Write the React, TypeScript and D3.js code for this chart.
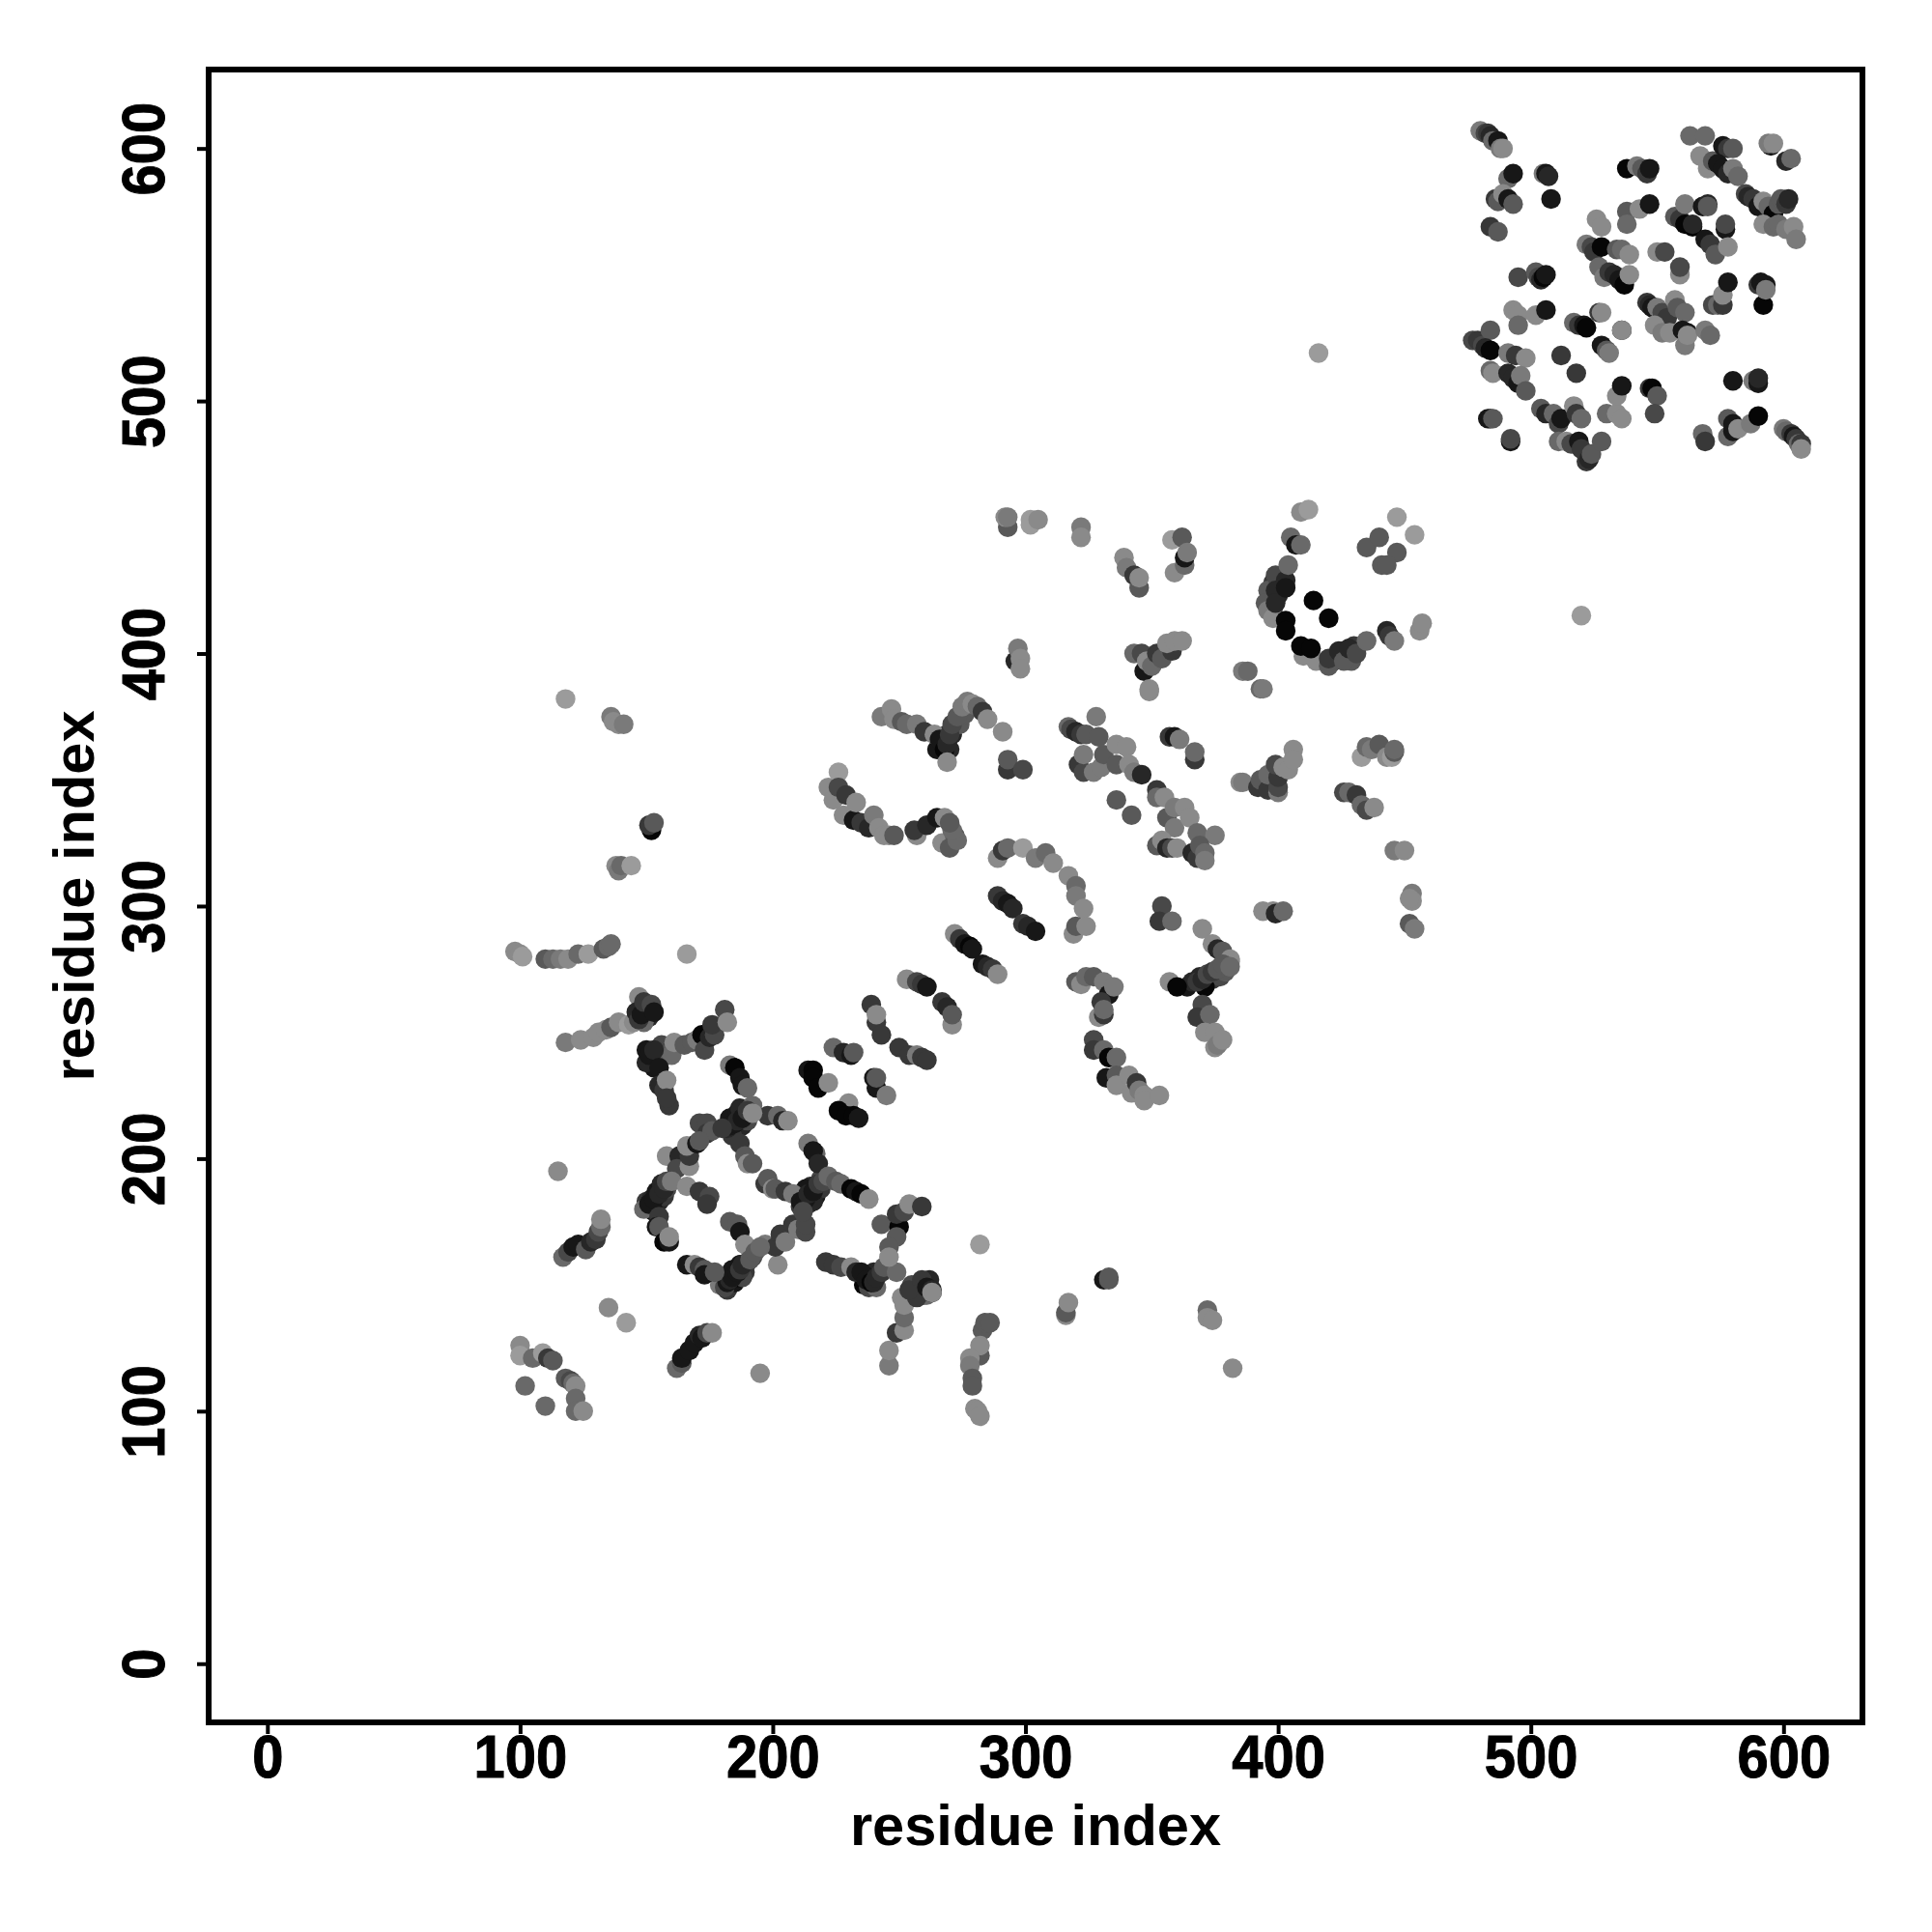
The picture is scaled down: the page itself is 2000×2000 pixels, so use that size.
import { useRef, useEffect } from 'react';
import * as d3 from 'd3';

// [residue i, residue j, shade] - shade 0 is black, 9 is the lightest grey
type Contact = [number, number, number];

const ticks = [0, 100, 200, 300, 400, 500, 600];
const axisDomain: [number, number] = [-23.24, 631.24];
const axisTitle = 'residue index';

// Lower layer of the thick bands, hidden partly by the contacts drawn after it
const bandContacts: Contact[] = [
    [150, 183, 3], [152, 184, 2], [152, 180, 2], [154, 187, 1], [155, 183, 2], [157, 185, 3], [158, 188, 4], [156, 190, 2], [153, 179, 1],
    [180, 152, 2], [182, 148, 3], [183, 154, 1], [185, 151, 1], [186, 153, 0], [187, 158, 1], [189, 155, 3], [190, 159, 3], [192, 161, 4], [184, 156, 1], [188, 153, 4],
    [212, 186, 1], [214, 182, 2], [215, 189, 2], [217, 185, 1], [219, 188, 3], [213, 188, 1], [216, 183, 2], [219, 192, 4],
    [183, 216, 1], [185, 211, 2], [186, 218, 1], [188, 213, 2], [190, 215, 4], [187, 220, 2], [184, 209, 3],
    [236, 150, 0], [238, 153, 1], [240, 155, 2], [236, 154, 1], [238, 149, 4], [241, 149, 6],
    [258, 148, 3], [260, 146, 4], [262, 152, 2], [257, 150, 5], [261, 146, 6],
    [148, 260, 2], [150, 259, 1], [151, 256, 2], [149, 254, 6],
    [150, 243, 1], [152, 240, 0], [154, 241, 1], [156, 245, 4], [158, 241, 5], [160, 241, 6], [153, 236, 1],
    [267, 365, 1], [269, 368, 3], [271, 368, 2], [272, 372, 5], [274, 372, 5], [276, 376, 5], [270, 362, 2], [265, 362, 1],
    [398, 428, 3], [400, 423, 2], [402, 431, 3], [401, 426, 4], [398, 418, 5], [397, 422, 6],
    [422, 397, 3], [424, 398, 2], [427, 399, 4], [429, 397, 5], [430, 403, 3], [426, 401, 1],
    [369, 272, 2], [372, 270, 1], [374, 271, 3], [377, 272, 4], [379, 274, 5], [381, 278, 8], [371, 268, 0],
];

const farContacts: Contact[] = [
    [118, 382, 9], [136, 375, 7], [137, 373, 8], [139, 372, 8], [141, 372, 7],
    [152, 330, 0], [151, 332, 3], [153, 333, 5], [138, 316, 8], [139, 314, 7], [140, 316, 6], [144, 316, 9],
    [166, 281, 9], [98, 282, 8], [100, 281, 8], [101, 280, 9], [110, 279, 5], [113, 279, 6], [116, 279, 7], [119, 279, 8],
    [123, 281, 6], [127, 281, 9], [133, 283, 5], [135, 284, 6], [136, 285, 6],
    [115, 195, 8], [135, 141, 8], [142, 135, 9], [195, 115, 8], [282, 166, 9], [416, 519, 9], [520, 415, 9],
    [331, 152, 1], [333, 152, 5], [333, 153, 5], [316, 138, 8], [316, 139, 5], [317, 143, 8],
    [372, 140, 6], [372, 137, 8], [374, 136, 8], [382, 117, 8],
    [100, 126, 8], [100, 122, 9], [102, 110, 6], [105, 121, 6], [109, 123, 9], [110, 102, 6], [111, 121, 3], [113, 120, 5],
    [118, 113, 5], [120, 112, 4], [121, 111, 6], [122, 110, 8], [122, 105, 6], [122, 100, 6], [125, 100, 8],
    [283, 132, 5], [284, 135, 5], [286, 135, 5], [282, 122, 5], [282, 126, 8], [278, 121, 8], [278, 118, 7], [279, 113, 5],
    [279, 110, 5], [280, 101, 8], [281, 100, 8], [282, 98, 8],
    [246, 118, 7], [246, 124, 8], [249, 131, 3], [252, 132, 8], [252, 137, 6], [251, 145, 8], [252, 142, 8], [257, 145, 3],
    [255, 150, 4], [254, 148, 3], [259, 152, 3], [261, 149, 1], [263, 147, 1], [263, 148, 2], [263, 147, 8],
    [162, 117, 6], [164, 119, 5], [164, 121, 1], [167, 124, 1], [169, 127, 1], [171, 130, 2], [172, 129, 1], [174, 131, 4], [176, 131, 8],
];

const coreContacts: Contact[] = [
    [118, 246, 7], [124, 247, 8], [129, 248, 8], [131, 250, 8], [134, 251, 8], [136, 252, 5], [139, 254, 8], [143, 253, 9], [145, 254, 8],
    [147, 264, 8], [146, 258, 2], [147, 255, 3], [148, 257, 1], [149, 262, 3], [152, 261, 4], [153, 258, 1],
    [150, 238, 2], [151, 241, 1], [153, 243, 2], [155, 236, 1], [155, 229, 2], [157, 227, 3], [158, 231, 8], [159, 221, 3], [158, 224, 3],
    [161, 246, 8], [165, 245, 5], [168, 246, 5], [170, 247, 7], [172, 249, 0], [173, 243, 4], [175, 248, 2], [177, 249, 4], [176, 253, 3], [181, 259, 4], [182, 254, 8],
    [183, 237, 7], [185, 236, 0], [187, 232, 1], [188, 229, 1], [190, 228, 6], [192, 221, 6],
    [198, 217, 3], [202, 217, 6], [204, 215, 2], [206, 215, 8],
    [182, 212, 2], [183, 213, 1], [185, 214, 1], [186, 215, 2], [188, 216, 1], [190, 219, 3], [192, 218, 8],
    [171, 214, 4], [174, 214, 4], [174, 210, 3], [176, 211, 5], [180, 212, 3],
    [158, 201, 8], [163, 201, 2], [162, 196, 4], [167, 197, 8], [167, 201, 3], [166, 205, 8], [170, 206, 1], [171, 207, 5],
    [187, 206, 3], [189, 201, 5], [190, 198, 8], [192, 198, 5],
    [197, 190, 3], [198, 192, 5], [200, 188, 8], [201, 188, 5], [205, 187, 3], [208, 186, 7],
    [214, 206, 7], [217, 202, 6], [216, 203, 1], [218, 198, 2],
    [211, 181, 3], [211, 183, 1], [213, 184, 1], [214, 186, 2], [216, 187, 1], [218, 190, 3], [220, 191, 4], [222, 193, 6], [225, 191, 5],
    [227, 190, 6], [231, 188, 0], [233, 187, 1], [235, 186, 0], [238, 184, 8],
    [202, 158, 8], [197, 166, 7], [201, 165, 3], [203, 170, 3], [205, 167, 7], [208, 174, 3], [210, 172, 7], [213, 171, 4], [213, 174, 4], [212, 179, 4],
    [183, 175, 5], [186, 174, 5], [187, 171, 1], [189, 166, 8],
    [179, 150, 7], [181, 149, 4], [182, 151, 1], [183, 152, 2], [184, 153, 1], [186, 155, 1], [187, 156, 3], [188, 158, 2], [191, 160, 5], [193, 163, 5], [195, 165, 6],
    [166, 158, 1], [169, 158, 8], [171, 157, 3], [173, 156, 5], [173, 154, 1], [177, 155, 5],
    [149, 180, 6], [151, 182, 1], [153, 184, 1], [155, 186, 2], [157, 188, 2], [158, 191, 4], [160, 191, 7], [166, 189, 8], [171, 187, 3], [175, 185, 4], [174, 182, 3],
    [155, 177, 3], [154, 173, 1], [155, 173, 5], [157, 167, 0], [159, 167, 1], [159, 169, 8],
    [117, 161, 6], [119, 163, 4], [121, 165, 1], [123, 166, 1], [126, 164, 5], [128, 167, 2], [130, 168, 3], [131, 171, 4], [132, 173, 6], [132, 176, 8],
    [221, 159, 3], [224, 158, 3], [227, 157, 4], [231, 157, 8], [233, 155, 2], [235, 155, 1], [237, 152, 1], [239, 151, 0], [240, 151, 2], [241, 153, 2], [243, 155, 3], [244, 157, 5], [249, 155, 6],
    [243, 174, 5], [250, 173, 0], [249, 178, 3], [252, 179, 4], [254, 182, 8], [259, 181, 3], [249, 169, 5], [246, 165, 5], [246, 161, 8],
];

const midContacts: Contact[] = [
    [253, 271, 8], [257, 270, 4], [259, 269, 3], [261, 268, 1], [267, 262, 3], [269, 260, 2], [271, 253, 8], [271, 257, 5],
    [239, 261, 3], [241, 254, 3], [241, 257, 8], [243, 249, 3], [250, 244, 3], [254, 241, 3], [257, 241, 7], [259, 240, 3], [261, 239, 3],
    [224, 244, 6], [228, 242, 2], [231, 241, 1], [232, 242, 5], [214, 235, 1], [216, 235, 0], [216, 232, 0], [218, 228, 0], [222, 230, 8],
    [241, 228, 1], [240, 232, 1], [241, 232, 5], [245, 225, 7], [230, 222, 8], [226, 219, 0], [229, 217, 0], [232, 217, 0], [234, 216, 1],
    [272, 289, 8], [274, 287, 3], [276, 285, 1], [278, 284, 0], [279, 283, 1], [283, 277, 1], [285, 276, 2], [287, 275, 3], [289, 273, 8],
    [222, 347, 8], [224, 342, 8], [226, 353, 9], [226, 347, 4], [229, 344, 3], [228, 336, 8], [232, 334, 1], [233, 341, 8], [235, 333, 3],
    [238, 331, 2], [240, 336, 7], [242, 331, 8], [244, 328, 8], [246, 328, 8], [248, 328, 5],
    [257, 328, 8], [256, 330, 3], [261, 332, 2], [265, 335, 1], [268, 335, 8], [267, 325, 8], [270, 323, 5], [272, 328, 5], [273, 326, 6], [271, 330, 6], [270, 333, 5],
    [243, 375, 7], [247, 378, 8], [248, 374, 8], [251, 373, 5], [253, 372, 6], [257, 372, 7], [260, 369, 3], [264, 368, 8], [266, 366, 1],
    [268, 362, 0], [269, 364, 2], [270, 368, 3], [271, 372, 4], [273, 375, 5], [275, 379, 7], [269, 357, 8],
    [277, 381, 7], [279, 380, 8], [281, 379, 6], [283, 377, 3], [285, 374, 8], [291, 369, 8], [293, 354, 3], [293, 358, 5], [299, 354, 4],
    [289, 319, 8], [291, 322, 3], [293, 323, 6], [299, 323, 9], [304, 319, 7], [308, 321, 6], [311, 317, 8], [317, 312, 8], [320, 308, 6], [320, 304, 7],
    [323, 299, 8], [319, 289, 8], [320, 292, 5], [324, 292, 8],
    [289, 304, 3], [291, 302, 2], [293, 301, 1], [295, 299, 2], [299, 293, 3], [301, 292, 2], [304, 290, 1],
    [293, 450, 5], [292, 454, 8], [293, 454, 7], [302, 453, 9], [302, 451, 9], [305, 453, 8], [322, 450, 7], [322, 446, 8],
    [339, 438, 8], [340, 434, 7], [343, 431, 3], [345, 426, 5], [345, 430, 8], [358, 445, 9], [359, 432, 8], [362, 446, 5], [363, 435, 6], [363, 438, 1], [364, 440, 7],
    [296, 397, 2], [297, 402, 7], [298, 398, 8], [298, 394, 8],
    [343, 400, 6], [346, 400, 4], [347, 393, 1], [348, 397, 8], [350, 395, 6], [352, 400, 3], [354, 398, 5], [358, 401, 3], [356, 404, 8], [359, 405, 8], [362, 405, 8], [349, 385, 8], [349, 386, 8],
    [386, 393, 7], [388, 393, 6], [393, 386, 6], [394, 386, 7],
    [317, 371, 6], [318, 370, 4], [320, 369, 2], [322, 368, 3], [324, 368, 5], [329, 367, 5], [328, 375, 7],
    [321, 356, 3], [323, 353, 4], [323, 360, 7], [327, 353, 7], [330, 355, 7], [331, 360, 5], [336, 356, 5], [336, 364, 8], [340, 363, 8], [341, 356, 8], [343, 353, 7], [346, 352, 2],
    [336, 342, 5], [342, 336, 5],
    [352, 346, 3], [352, 343, 6], [355, 343, 8], [356, 335, 5], [359, 331, 7], [359, 339, 7], [363, 339, 8], [365, 335, 8], [352, 324, 5], [354, 326, 8], [356, 323, 2], [358, 323, 4], [360, 323, 8],
    [368, 329, 6], [375, 328, 7], [366, 321, 2], [368, 319, 3], [369, 324, 5], [371, 321, 6], [371, 318, 7],
    [357, 367, 3], [359, 367, 1], [361, 366, 7], [367, 358, 3], [367, 361, 6],
    [385, 349, 8], [386, 349, 7], [392, 347, 3], [393, 350, 5], [396, 346, 3], [396, 352, 6], [400, 345, 7], [400, 347, 4], [400, 351, 3], [399, 356, 4], [402, 355, 8], [404, 354, 8], [406, 362, 8], [406, 358, 8],
    [433, 359, 9], [435, 363, 6], [437, 362, 7], [440, 364, 5], [443, 359, 8], [445, 359, 9], [446, 361, 5], [446, 362, 6],
    [426, 345, 4], [428, 345, 6], [431, 344, 3], [433, 340, 6], [435, 338, 4], [438, 339, 8], [446, 322, 7], [450, 322, 8],
    [453, 305, 7], [453, 302, 8], [452, 303, 8], [452, 293, 5], [454, 291, 7],
    [394, 298, 8], [398, 298, 8], [399, 297, 2], [402, 298, 6], [354, 300, 4], [353, 294, 3], [358, 294, 6], [370, 291, 8],
    [374, 285, 8], [376, 283, 2], [378, 282, 5], [381, 279, 8],
    [364, 268, 1], [366, 270, 2], [368, 270, 3], [370, 271, 2], [372, 273, 4], [374, 274, 3], [376, 275, 5], [378, 277, 5], [381, 276, 6], [357, 270, 8], [360, 268, 0],
    [370, 261, 4], [368, 256, 3], [373, 257, 6], [371, 250, 8], [375, 250, 8], [375, 244, 8], [376, 245, 7], [378, 247, 8],
    [320, 270, 5], [322, 269, 8], [324, 272, 6], [327, 272, 5], [331, 270, 7], [333, 265, 1], [335, 268, 7], [329, 256, 8], [330, 262, 3], [331, 257, 3], [331, 259, 6],
    [327, 247, 4], [327, 243, 3], [331, 243, 6], [333, 240, 0], [336, 240, 6], [332, 232, 1], [336, 233, 5], [336, 229, 8], [341, 233, 8], [342, 226, 8], [344, 230, 3], [345, 227, 7], [347, 225, 8], [347, 223, 8], [353, 225, 8],
];

const arcContacts: Contact[] = [
    [409, 456, 8], [412, 457, 9], [405, 446, 6], [407, 443, 1], [409, 443, 6],
    [396, 425, 5], [395, 420, 5], [396, 417, 7], [398, 414, 8], [399, 431, 4], [399, 425, 2], [399, 420, 2], [403, 429, 2], [403, 426, 1], [404, 435, 6], [403, 413, 0], [403, 409, 0],
    [414, 421, 0], [420, 414, 0],
    [410, 399, 8], [415, 397, 8], [420, 395, 5], [420, 398, 3], [409, 403, 0], [413, 402, 0], [424, 401, 2], [426, 397, 5], [428, 402, 2], [431, 400, 4], [435, 405, 6], [443, 409, 2], [444, 407, 3], [446, 405, 7],
    [456, 409, 8], [457, 412, 8], [447, 454, 9], [454, 447, 9], [435, 442, 5], [440, 446, 5], [447, 440, 5], [441, 435, 5], [443, 435, 5],
];

const domainContacts: Contact[] = [
    [480, 607, 7], [482, 606, 4], [483, 606, 3], [484, 605, 2], [485, 603, 6], [487, 603, 1], [488, 600, 7], [489, 600, 8],
    [491, 588, 6], [493, 590, 1], [505, 590, 7], [506, 590, 1], [507, 589, 2], [508, 580, 1],
    [486, 580, 3], [487, 579, 5], [489, 582, 8], [491, 580, 1], [493, 578, 5], [484, 569, 3], [487, 567, 5],
    [495, 549, 4], [502, 551, 5], [503, 549, 4], [504, 548, 2], [505, 549, 0], [506, 550, 1],
    [493, 536, 8], [495, 534, 8], [495, 530, 6], [502, 534, 8], [506, 536, 1],
    [477, 524, 4], [479, 524, 3], [481, 522, 4], [484, 528, 5], [482, 521, 2], [484, 520, 0],
    [484, 512, 6], [485, 511, 8], [491, 519, 7], [494, 518, 3], [498, 517, 8], [491, 511, 2], [493, 509, 2], [495, 507, 1], [496, 510, 7], [498, 504, 5],
    [512, 518, 3], [518, 511, 3], [483, 493, 1], [484, 493, 1], [485, 493, 5], [492, 484, 1], [492, 485, 4],
    [504, 497, 5], [506, 495, 2], [509, 495, 6], [511, 491, 4], [512, 493, 1], [517, 498, 8], [518, 495, 3], [520, 493, 6],
    [511, 484, 6], [514, 484, 8], [516, 483, 4], [519, 484, 1], [520, 481, 3], [522, 476, 3], [523, 477, 2], [524, 479, 5], [528, 484, 5],
    [530, 495, 6], [534, 495, 8], [536, 493, 8], [534, 502, 8], [536, 506, 1], [547, 505, 3], [548, 505, 0], [550, 502, 5], [549, 495, 4],
    [527, 535, 3], [528, 535, 8], [536, 528, 1], [536, 528, 8], [517, 531, 6], [519, 530, 3], [521, 530, 1], [522, 529, 0],
    [528, 522, 1], [530, 520, 5], [531, 519, 7],
    [526, 572, 8], [528, 569, 8], [522, 562, 7], [524, 561, 4], [525, 559, 3], [528, 561, 0], [527, 553, 6], [529, 549, 7], [531, 551, 3], [533, 550, 2], [535, 548, 1], [537, 546, 0], [534, 560, 5], [536, 560, 6], [539, 558, 8], [539, 550, 8],
    [538, 575, 5], [538, 570, 6], [543, 576, 8], [547, 578, 1], [538, 592, 0], [542, 593, 7], [544, 592, 5], [546, 590, 3], [547, 592, 1],
    [550, 559, 8], [553, 559, 4], [559, 550, 8], [559, 553, 4],
    [557, 573, 5], [559, 572, 3], [561, 578, 7], [561, 570, 0], [564, 569, 0], [564, 570, 2], [568, 577, 1], [570, 578, 2], [570, 577, 5], [577, 568, 1], [577, 570, 4],
    [569, 564, 1], [571, 562, 3], [573, 558, 5], [578, 561, 8],
    [572, 538, 4], [574, 538, 6], [576, 538, 3], [576, 542, 8], [578, 547, 1], [590, 546, 3], [591, 547, 1], [593, 546, 1], [592, 538, 0], [593, 544, 7],
    [546, 539, 3], [547, 538, 2], [548, 537, 1], [550, 537, 7], [552, 535, 4], [554, 533, 3], [549, 530, 8], [552, 527, 7], [555, 527, 8], [557, 540, 8], [558, 537, 5], [561, 535, 6],
    [560, 528, 1], [562, 527, 1], [561, 522, 7], [562, 526, 8], [569, 528, 7], [571, 526, 6],
    [563, 605, 6], [569, 605, 6], [567, 597, 8], [570, 592, 8], [572, 595, 5], [576, 601, 1], [578, 600, 3], [580, 600, 5], [574, 594, 1], [576, 592, 1], [578, 590, 2], [580, 592, 7], [582, 589, 6],
    [595, 601, 1], [594, 602, 7], [596, 602, 8], [601, 595, 2], [603, 596, 6],
    [585, 582, 4], [586, 581, 2], [588, 580, 3], [590, 577, 1], [592, 579, 8], [594, 577, 6], [596, 574, 0], [598, 578, 5], [599, 580, 5], [601, 578, 3], [602, 580, 2],
    [592, 570, 8], [596, 569, 6], [598, 570, 6], [601, 568, 7], [604, 569, 8], [605, 564, 7],
    [580, 508, 1], [588, 508, 7], [590, 507, 1], [590, 509, 2],
    [578, 493, 5], [578, 486, 6], [580, 488, 1], [580, 491, 1], [582, 489, 8], [587, 491, 7], [590, 494, 0], [568, 487, 6], [569, 484, 3],
    [600, 489, 7], [601, 488, 6], [603, 487, 3], [604, 486, 1], [605, 485, 3], [606, 483, 6], [607, 483, 3], [607, 481, 8],
];

export default function App() {
    const svgRef = useRef<SVGSVGElement>(null);

    useEffect(() => {
        if (!svgRef.current) return;

        const svg = d3.select(svgRef.current);
        svg.selectAll('*').remove();

        const left = 216;
        const right = 1928;
        const top = 72;
        const bottom = 1783;

        const xScale = d3.scaleLinear().domain(axisDomain).range([left, right]);
        const yScale = d3.scaleLinear().domain(axisDomain).range([bottom, top]);
        const shade = d3.scaleLinear<string>().domain([0, 9]).range(['#060606', '#9b9b9b']);

        const contacts = [...bandContacts, ...farContacts, ...coreContacts, ...midContacts, ...arcContacts, ...domainContacts];

        svg.append('g')
            .selectAll('circle')
            .data(contacts)
            .join('circle')
            .attr('cx', d => xScale(d[0]))
            .attr('cy', d => yScale(d[1]))
            .attr('r', 10.2)
            .attr('fill', d => shade(d[2]));

        // Axes, R style: outward ticks and rotated y labels
        const xAxis = svg.append('g')
            .attr('transform', `translate(0,${bottom})`)
            .call(d3.axisBottom(xScale).tickValues(ticks).tickSize(12).tickFormat(d3.format('d')));
        const yAxis = svg.append('g')
            .attr('transform', `translate(${left},0)`)
            .call(d3.axisLeft(yScale).tickValues(ticks).tickSize(12).tickFormat(d3.format('d')));

        [xAxis, yAxis].forEach(axis => {
            axis.select('.domain').remove();
            axis.selectAll('line').attr('stroke', '#000').attr('stroke-width', 4);
            axis.selectAll('text')
                .attr('fill', '#000')
                .attr('stroke', '#000')
                .attr('stroke-width', 1)
                .attr('font-family', '"Liberation Sans", sans-serif')
                .attr('font-weight', 700)
                .attr('font-size', 63);
        });

        // The labels are a little narrower than the font's own proportions
        xAxis.selectAll('text')
            .attr('y', null)
            .attr('dy', null)
            .attr('transform', 'translate(0,57) scale(0.92,1)');
        yAxis.selectAll('text')
            .attr('x', null)
            .attr('dy', null)
            .attr('text-anchor', 'middle')
            .attr('transform', 'translate(-46,0) rotate(-90) scale(0.92,1)');

        svg.append('rect')
            .attr('x', left)
            .attr('y', top)
            .attr('width', right - left)
            .attr('height', bottom - top)
            .attr('fill', 'none')
            .attr('stroke', '#000')
            .attr('stroke-width', 6);

        svg.append('text')
            .attr('x', (left + right) / 2)
            .attr('y', 1910)
            .attr('text-anchor', 'middle')
            .attr('font-family', '"Liberation Sans", sans-serif')
            .attr('font-weight', 700)
            .attr('font-size', 59.6)
            .text(axisTitle);

        svg.append('text')
            .attr('transform', `translate(97,${(top + bottom) / 2}) rotate(-90)`)
            .attr('text-anchor', 'middle')
            .attr('font-family', '"Liberation Sans", sans-serif')
            .attr('font-weight', 700)
            .attr('font-size', 59.6)
            .text(axisTitle);
    }, []);

    return (
        <svg
            ref={svgRef}
            width={2000}
            height={2000}
            style={{ position: 'absolute', left: 0, top: 0, background: '#fff' }}
        />
    );
}
